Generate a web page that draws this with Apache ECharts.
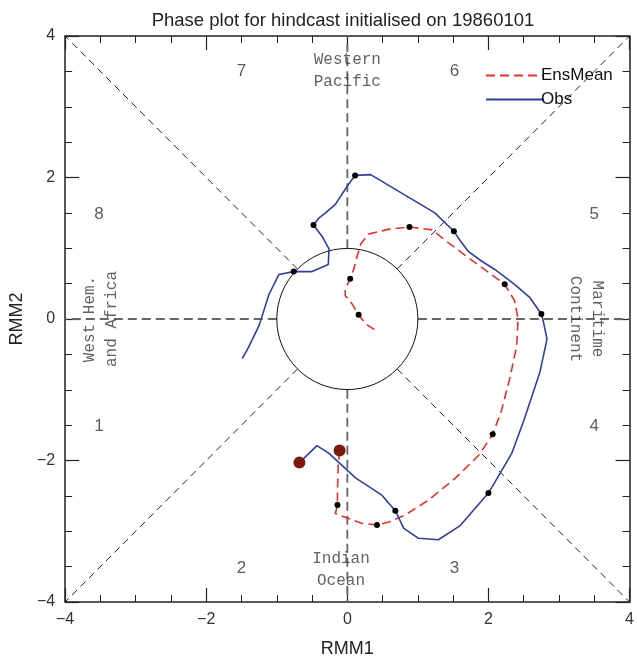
<!DOCTYPE html>
<html>
<head>
<meta charset="utf-8">
<script src="https://cdn.jsdelivr.net/npm/echarts@6.0.0/dist/echarts.min.js"></script>
<style>
  html, body { margin: 0; padding: 0; background: #fff; }
  #chart { width: 637px; height: 663px; }
</style>
</head>
<body>
<div id="chart"></div>
<script>
// observed RMM1/RMM2 trajectory
const obsLine = [
  [-0.68, -2.03], [-0.43, -1.79], [-0.26, -1.90], [0.12, -2.25], [0.49, -2.49],
  [0.68, -2.71], [0.80, -2.96], [1.01, -3.10], [1.29, -3.12], [1.60, -2.92],
  [2.00, -2.46], [2.33, -1.90], [2.51, -1.41], [2.73, -0.75], [2.83, -0.28],
  [2.77, 0.00], [2.75, 0.07], [2.58, 0.31], [2.37, 0.49], [2.09, 0.70],
  [1.90, 0.82], [1.71, 0.96], [1.62, 1.08], [1.51, 1.24], [1.24, 1.50],
  [0.33, 2.04], [0.11, 2.03], [0.00, 1.88], [-0.17, 1.62], [-0.31, 1.50],
  [-0.40, 1.43], [-0.48, 1.33], [-0.36, 1.17], [-0.26, 0.99], [-0.27, 0.77],
  [-0.50, 0.67], [-0.76, 0.67], [-0.97, 0.63], [-1.11, 0.35], [-1.25, -0.09],
  [-1.41, -0.42], [-1.49, -0.56]
]
const obsDots = [
  [0.68, -2.71], [2.00, -2.46], [2.75, 0.07], [1.51, 1.24], [0.11, 2.03], [-0.48, 1.33], [-0.76, 0.67]
]

// ensemble mean forecast trajectory
const ensLine = [
  [-0.11, -1.86], [-0.13, -2.07], [-0.14, -2.44], [-0.14, -2.63], [-0.17, -2.75],
  [0.02, -2.82], [0.21, -2.89], [0.42, -2.91], [0.59, -2.87], [0.82, -2.77],
  [1.15, -2.56], [1.53, -2.25], [1.86, -1.93], [2.06, -1.63], [2.18, -1.31],
  [2.30, -0.85], [2.40, -0.38], [2.42, 0.00], [2.37, 0.26], [2.23, 0.49],
  [2.00, 0.66], [1.71, 0.87], [1.43, 1.08], [1.20, 1.26], [0.88, 1.30],
  [0.59, 1.27], [0.30, 1.20], [0.19, 1.06], [0.14, 0.89], [0.09, 0.70],
  [0.04, 0.57], [-0.03, 0.42], [-0.03, 0.33], [0.07, 0.21], [0.16, 0.06],
  [0.26, -0.07], [0.40, -0.16]
]
const ensDots = [
  [-0.14, -2.63], [0.42, -2.91], [2.06, -1.63], [2.23, 0.49], [0.88, 1.30], [0.04, 0.57], [0.16, 0.06]
]

const startDots = [[-0.68, -2.03], [-0.11, -1.86]]

// phase diagram guides
const diagonalLines = [
  [[0.7071, 0.7071], [4, 4]], [[-0.7071, -0.7071], [-4, -4]],
  [[-0.7071, 0.7071], [-4, 4]], [[0.7071, -0.7071], [4, -4]]
]
const axisLines = [
  [[0, 1], [0, 4]], [[0, -1], [0, -4]], [[1, 0], [4, 0]], [[-1, 0], [-4, 0]]
]
const phaseLabels = [
  [-3.52, -1.52, '1'], [-1.5, -3.52, '2'], [1.52, -3.52, '3'], [3.5, -1.52, '4'],
  [3.5, 1.48, '5'], [1.52, 3.5, '6'], [-1.5, 3.5, '7'], [-3.52, 1.48, '8']
]
const regionLabels = [[0, 3.51, 'Western\nPacific'], [-0.09, -3.54, 'Indian\nOcean']]
const westLabel = [[-3.49, 0, 'West Hem.\nand Africa']]
const eastLabel = [[3.38, 0, 'Maritime\nContinent']]
const axisTicks = [-4, -2, 0, 2, 4]

const chart = echarts.init(document.getElementById('chart'))

const fmt = v => String(v).replace('-', '\u2212')

const baseAxis = {
  min: axisTicks[0],
  max: axisTicks[axisTicks.length - 1],
  interval: 2,
  axisLine: { show: true, onZero: false, lineStyle: { color: '#222', width: 1.5 } },
  axisTick: { show: true, inside: true, length: 14, lineStyle: { color: '#222', width: 1.2 } },
  minorTick: { show: true, splitNumber: 4, length: 7, lineStyle: { color: '#222', width: 1 } },
  splitLine: { show: false },
  minorSplitLine: { show: false }
}

const guideSeries = []
diagonalLines.forEach(seg => guideSeries.push({
  type: 'line', data: seg, symbol: 'none', silent: true, z: 1,
  lineStyle: { color: '#222', width: 1, type: [7, 5] }
}))
axisLines.forEach(seg => guideSeries.push({
  type: 'line', data: seg, symbol: 'none', silent: true, z: 1,
  lineStyle: { color: '#666', width: 1.8, type: [9, 5] }
}))

const monoLabel = {
  show: true,
  formatter: p => p.data[2],
  fontFamily: 'Liberation Mono',
  fontSize: 16,
  lineHeight: 22,
  color: '#3a3a3a',
  position: 'inside'
}

chart.setOption({
  animation: false,
  title: {
    text: 'Phase plot for hindcast initialised on 19860101',
    left: 338, top: 6, textAlign: 'center',
    textStyle: { fontFamily: 'Liberation Sans', fontSize: 18.5, fontWeight: 'normal', color: '#222' }
  },
  legend: {
    data: ['EnsMean', 'Obs'],
    orient: 'vertical',
    left: 480, top: 62,
    itemWidth: 58, itemHeight: 14, itemGap: 7,
    itemStyle: { opacity: 0 },
    textStyle: { fontFamily: 'Liberation Sans', fontSize: 17, color: '#111', padding: [0, 0, 0, -8] }
  },
  grid: { left: 65, right: 5, top: 36, bottom: 59 },
  xAxis: [
    Object.assign({}, baseAxis, {
      type: 'value', position: 'bottom',
      name: 'RMM1', nameLocation: 'middle', nameGap: 38,
      nameTextStyle: { fontFamily: 'Liberation Sans', fontSize: 18, color: '#222' },
      axisLabel: { margin: 10, formatter: fmt, fontFamily: 'Liberation Sans', fontSize: 16, color: '#333' }
    }),
    Object.assign({}, baseAxis, { type: 'value', position: 'top', axisLabel: { show: false } })
  ],
  yAxis: [
    Object.assign({}, baseAxis, {
      type: 'value', position: 'left',
      name: 'RMM2', nameLocation: 'middle', nameGap: 38,
      nameTextStyle: { fontFamily: 'Liberation Sans', fontSize: 18, color: '#222' },
      axisLabel: { margin: 10, formatter: fmt, fontFamily: 'Liberation Sans', fontSize: 16, color: '#333' }
    }),
    Object.assign({}, baseAxis, { type: 'value', position: 'right', axisLabel: { show: false } })
  ],
  series: guideSeries.concat([
    {
      type: 'custom', silent: true, z: 2,
      data: [[0, 0, 1]],
      renderItem: (params, api) => {
        const c = api.coord([api.value(0), api.value(1)])
        const r = api.size([api.value(2), api.value(2)])
        return {
          type: 'circle',
          shape: { cx: c[0], cy: c[1], r: r[0] },
          style: { fill: 'none', stroke: '#111', lineWidth: 1 }
        }
      }
    },
    {
      name: 'EnsMean', type: 'line', data: ensLine, symbol: 'none', z: 3,
      itemStyle: { color: '#e8312a' },
      lineStyle: { color: '#e8312a', width: 1.6, type: [9, 5] }
    },
    {
      name: 'Obs', type: 'line', data: obsLine, symbol: 'none', z: 3,
      itemStyle: { color: '#2f3f9e' },
      lineStyle: { color: '#2f3f9e', width: 1.6 }
    },
    {
      type: 'scatter', data: ensDots.concat(obsDots), symbolSize: 6, z: 4,
      itemStyle: { color: '#000', opacity: 1 }
    },
    {
      type: 'scatter', data: startDots, symbolSize: 12, z: 4,
      itemStyle: { color: '#7e1812', opacity: 1 }
    },
    {
      type: 'scatter', data: phaseLabels, symbolSize: 0, silent: true, z: 5,
      label: { show: true, formatter: p => p.data[2], fontFamily: 'Liberation Sans', fontSize: 17, color: '#333', position: 'inside' }
    },
    { type: 'scatter', data: regionLabels, symbolSize: 0, silent: true, z: 5, label: monoLabel },
    { type: 'scatter', data: westLabel, symbolSize: 0, silent: true, z: 5, label: Object.assign({}, monoLabel, { rotate: 90 }) },
    { type: 'scatter', data: eastLabel, symbolSize: 0, silent: true, z: 5, label: Object.assign({}, monoLabel, { rotate: -90 }) }
  ])
})
</script>
</body>
</html>
